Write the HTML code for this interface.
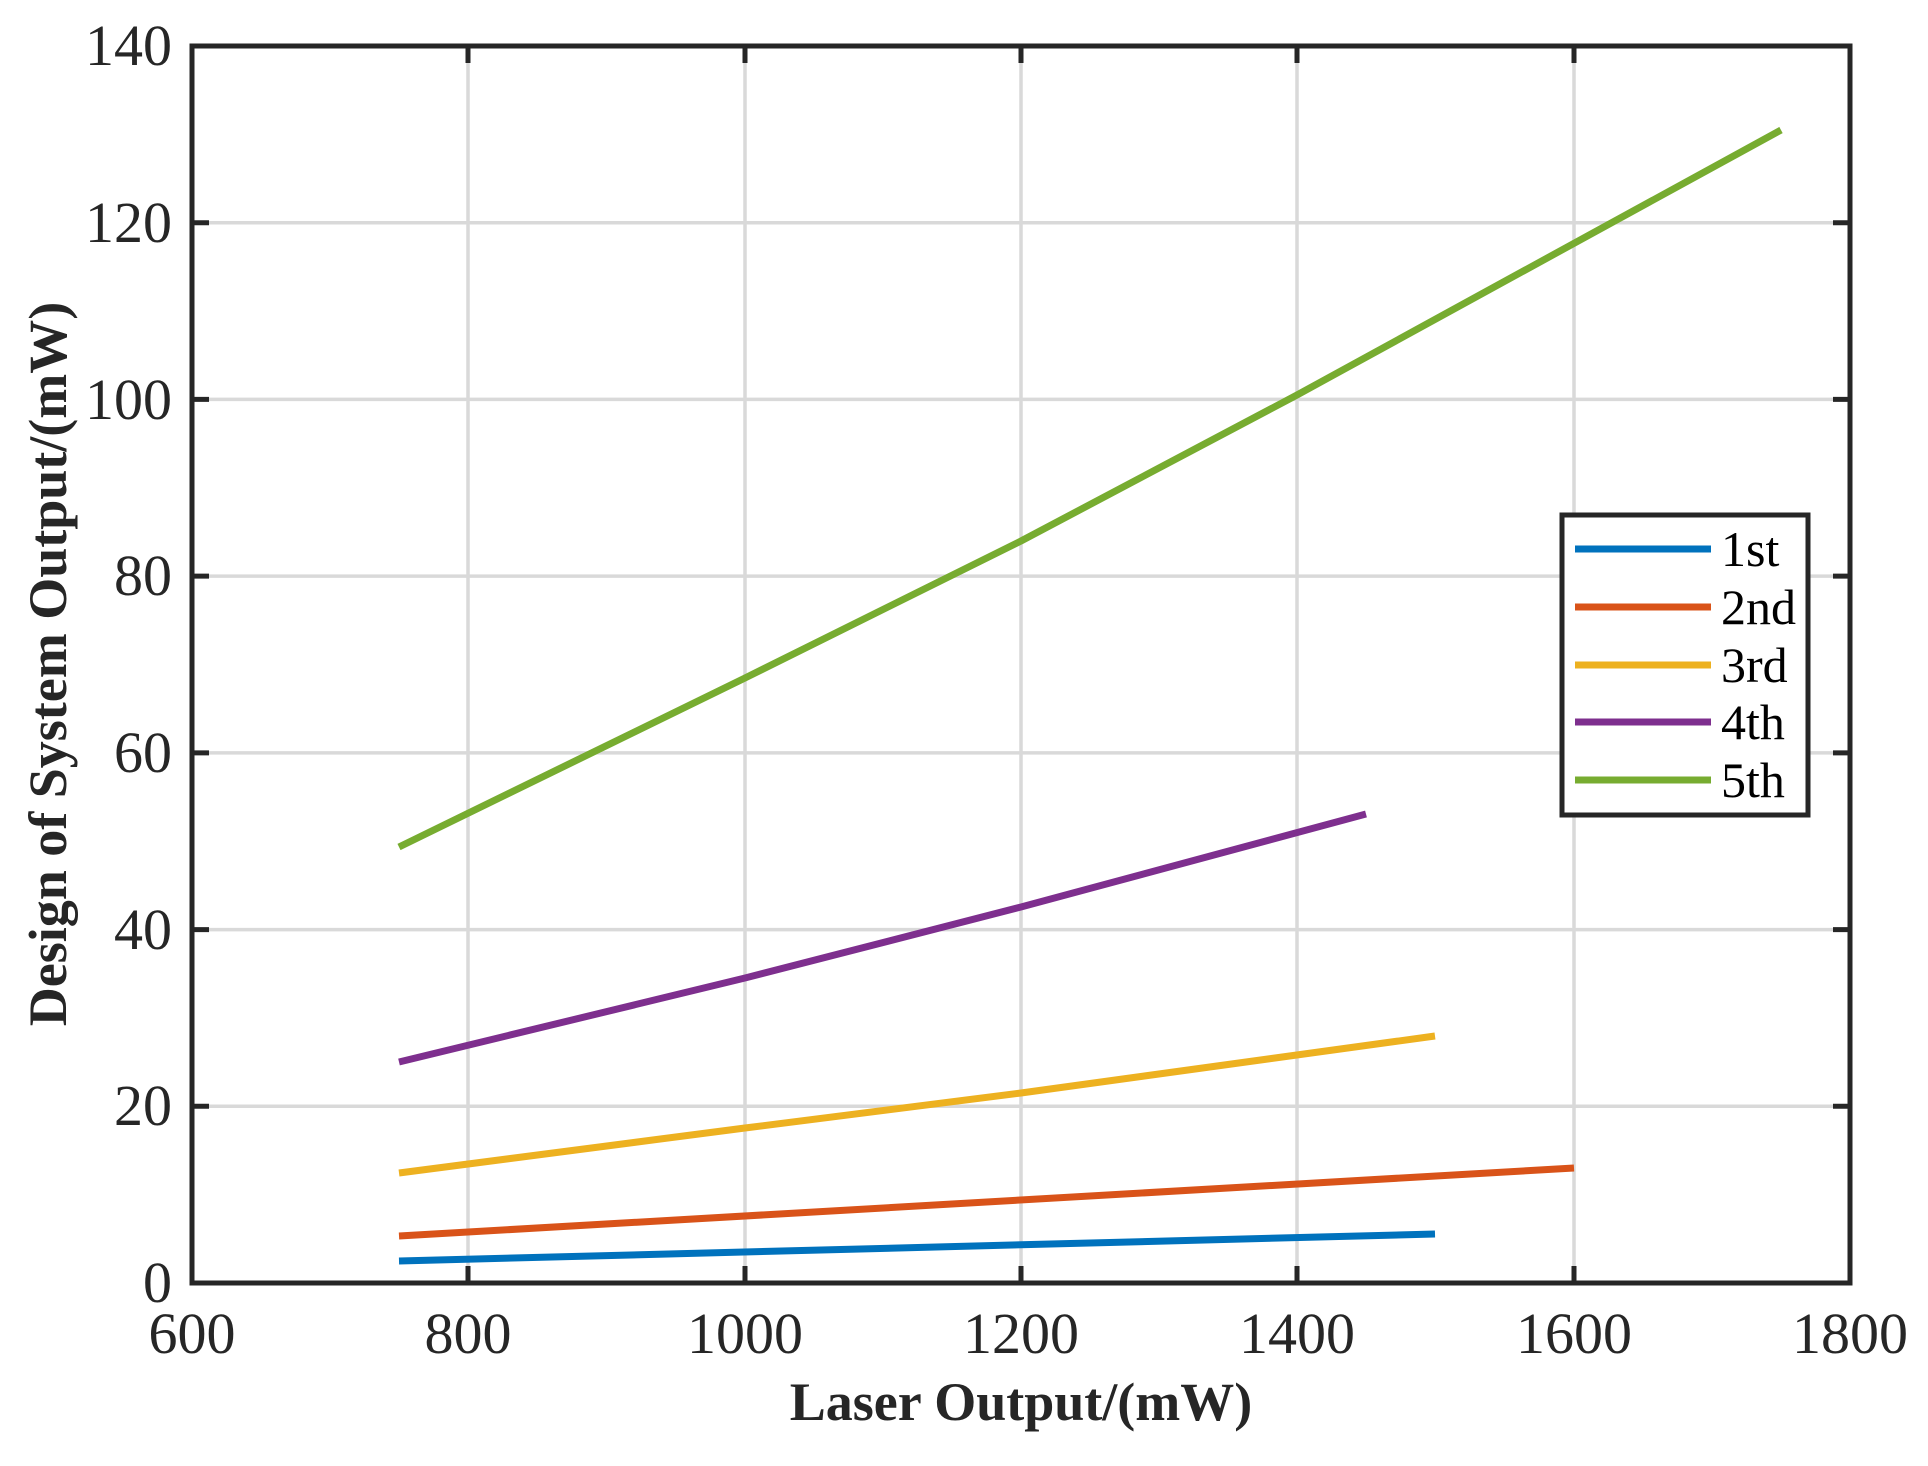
<!DOCTYPE html>
<html><head><style>body{margin:0;background:#fff}svg{display:block}</style></head><body>
<svg width="1928" height="1466" xmlns="http://www.w3.org/2000/svg" font-family="Liberation Serif, serif">
<rect width="1928" height="1466" fill="#fff"/>
<g stroke="#d9d9d9" stroke-width="3.5">
<line x1="468" y1="46" x2="468" y2="1283"/><line x1="745" y1="46" x2="745" y2="1283"/><line x1="1021" y1="46" x2="1021" y2="1283"/><line x1="1297" y1="46" x2="1297" y2="1283"/><line x1="1574" y1="46" x2="1574" y2="1283"/>
<line x1="192" y1="222.7" x2="1850" y2="222.7"/><line x1="192" y1="399.4" x2="1850" y2="399.4"/><line x1="192" y1="576.1" x2="1850" y2="576.1"/><line x1="192" y1="752.9" x2="1850" y2="752.9"/><line x1="192" y1="929.6" x2="1850" y2="929.6"/><line x1="192" y1="1106.3" x2="1850" y2="1106.3"/>
</g>
<g stroke="#262626" stroke-width="5">
<path d="M468 1283v-17M745 1283v-17M1021 1283v-17M1297 1283v-17M1574 1283v-17M468 46v17M745 46v17M1021 46v17M1297 46v17M1574 46v17"/>
<path d="M192 222.7h17M192 399.4h17M192 576.1h17M192 752.9h17M192 929.6h17M192 1106.3h17M1850 222.7h-17M1850 399.4h-17M1850 576.1h-17M1850 752.9h-17M1850 929.6h-17M1850 1106.3h-17"/>
</g>
<g fill="none" stroke-width="7" stroke-linejoin="round">
<polyline stroke="#0072bd" points="399,1261 1435,1234"/>
<polyline stroke="#d95319" points="399,1236 1574,1168"/>
<polyline stroke="#edb120" points="399,1173 745,1128 1021,1093 1435,1036"/>
<polyline stroke="#7e2f8e" points="399,1062 745,978 1021,907 1366,814"/>
<polyline stroke="#77ac30" points="399,847 745,678 1021,541 1297,395 1781,130"/>
</g>
<rect x="192" y="46" width="1658" height="1237" fill="none" stroke="#262626" stroke-width="5"/>
<g font-size="58" fill="#262626" text-anchor="end">
<text x="172" y="65">140</text><text x="172" y="242">120</text><text x="172" y="419">100</text><text x="172" y="595">80</text><text x="172" y="772">60</text><text x="172" y="949">40</text><text x="172" y="1125">20</text><text x="172" y="1302">0</text>
</g>
<g font-size="58" fill="#262626" text-anchor="middle">
<text x="192" y="1353">600</text><text x="468" y="1353">800</text><text x="745" y="1353">1000</text><text x="1021" y="1353">1200</text><text x="1297" y="1353">1400</text><text x="1574" y="1353">1600</text><text x="1850" y="1353">1800</text>
</g>
<text x="1021" y="1420" font-size="54" font-weight="bold" text-anchor="middle" fill="#262626">Laser Output/(mW)</text>
<text transform="translate(66,664) rotate(-90)" font-size="54" font-weight="bold" text-anchor="middle" fill="#262626">Design of System Output/(mW)</text>
<rect x="1562" y="515" width="246" height="300" fill="#fff" stroke="#262626" stroke-width="5"/>
<g stroke-width="7">
<line x1="1575" y1="549" x2="1711" y2="549" stroke="#0072bd"/>
<line x1="1575" y1="607" x2="1711" y2="607" stroke="#d95319"/>
<line x1="1575" y1="665" x2="1711" y2="665" stroke="#edb120"/>
<line x1="1575" y1="722" x2="1711" y2="722" stroke="#7e2f8e"/>
<line x1="1575" y1="780" x2="1711" y2="780" stroke="#77ac30"/>
</g>
<g font-size="50" fill="#000">
<text x="1721" y="566">1st</text><text x="1721" y="624">2nd</text><text x="1721" y="682">3rd</text><text x="1721" y="739">4th</text><text x="1721" y="797">5th</text>
</g>
</svg>
</body></html>
